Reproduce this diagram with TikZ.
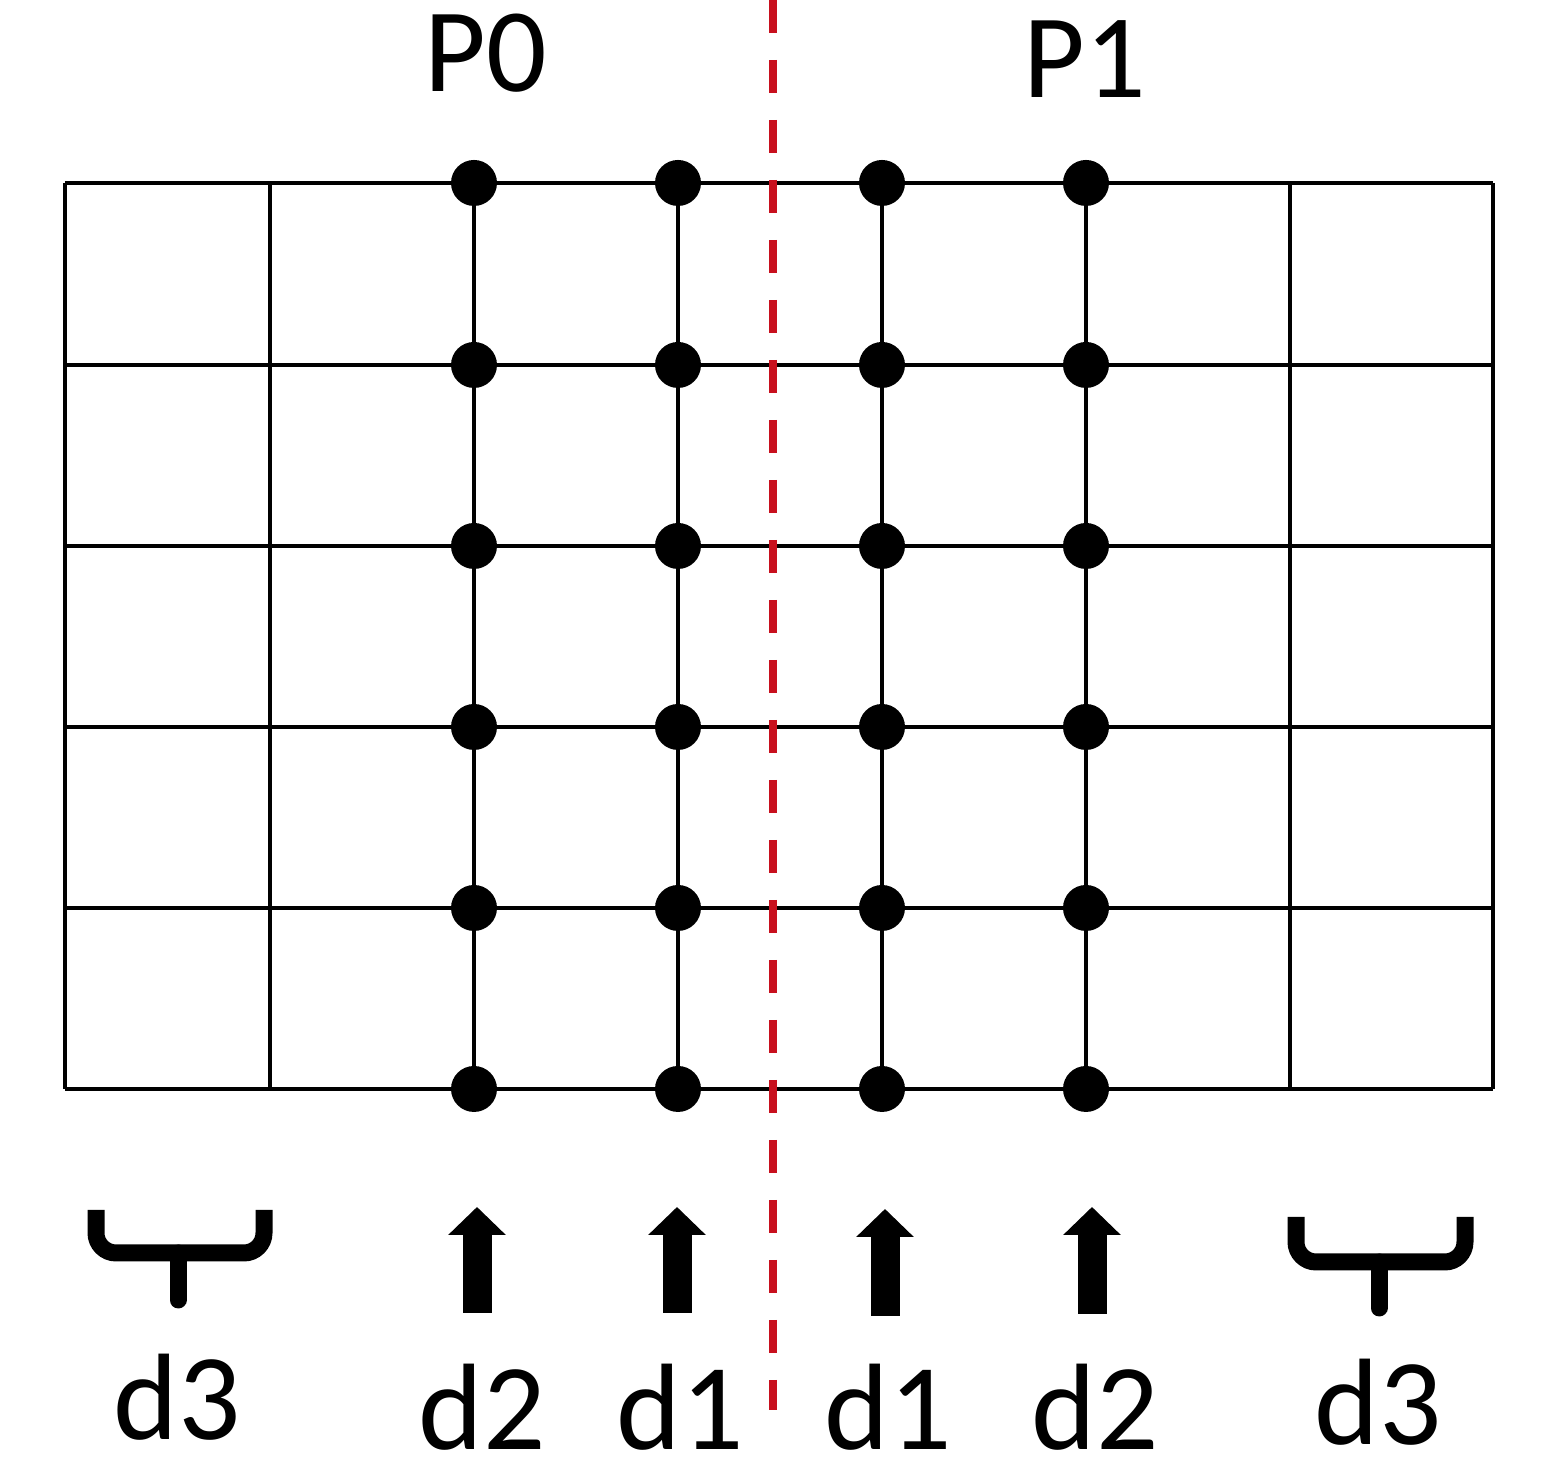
\documentclass[tikz,border=0pt]{standalone}
\usepackage{fontspec}
\setmainfont{Carlito}
\usetikzlibrary{arrows.meta}
\definecolor{cutred}{RGB}{200,16,30}
\tikzset{
    meshline/.style = {line width=0.9pt},
    meshpt/.style = {circle, fill=black, inner sep=0pt, minimum size=0.46cm},
    proctext/.style = {font=\fontsize{34}{40}\selectfont, anchor=base, inner sep=0pt},
    depthtext/.style = {font=\fontsize{35}{40}\selectfont, anchor=base, inner sep=0pt},
    uparrow/.style = {line width=0.29cm, -{Triangle[width=0.56cm,length=0.28cm]}},
    depthbrace/.style = {line width=0.17cm, rounded corners=0.2cm},
    bracestem/.style = {line width=0.17cm, line cap=round}
}

\begin{document}
\begin{tikzpicture}[]
                \useasboundingbox (0,0) rectangle (15.46,14.70);

                % rows
                \draw[meshline] (0.65,12.87) -- (14.93,12.87);
                \draw[meshline] (0.65,11.05) -- (14.93,11.05);
                \draw[meshline] (0.65,9.24) -- (14.93,9.24);
                \draw[meshline] (0.65,7.43) -- (14.93,7.43);
                \draw[meshline] (0.65,5.62) -- (14.93,5.62);
                \draw[meshline] (0.65,3.81) -- (14.93,3.81);

                % columns
                \draw[meshline] (0.65,3.81) -- (0.65,12.87);
                \draw[meshline] (2.70,3.81) -- (2.70,12.87);
                \draw[meshline] (4.74,3.81) -- (4.74,12.87);
                \draw[meshline] (6.78,3.81) -- (6.78,12.87);
                \draw[meshline] (8.82,3.81) -- (8.82,12.87);
                \draw[meshline] (10.86,3.81) -- (10.86,12.87);
                \draw[meshline] (12.90,3.81) -- (12.90,12.87);
                \draw[meshline] (14.93,3.81) -- (14.93,12.87);

                % cut between P0 and P1
                \draw[cutred, line width=0.08cm, dash pattern=on 0.33cm off 0.27cm] (7.73,14.70) -- (7.73,0.60);

                %% points of P0
                \node[meshpt] (a1) at (4.74,12.87) {};
                \node[meshpt] (a2) at (4.74,11.05) {};
                \node[meshpt] (a3) at (4.74,9.24) {};
                \node[meshpt] (a4) at (4.74,7.43) {};
                \node[meshpt] (a5) at (4.74,5.62) {};
                \node[meshpt] (a6) at (4.74,3.81) {};
                \node[meshpt] (b1) at (6.78,12.87) {};
                \node[meshpt] (b2) at (6.78,11.05) {};
                \node[meshpt] (b3) at (6.78,9.24) {};
                \node[meshpt] (b4) at (6.78,7.43) {};
                \node[meshpt] (b5) at (6.78,5.62) {};
                \node[meshpt] (b6) at (6.78,3.81) {};

                %% points of P1
                \node[meshpt] (c1) at (8.82,12.87) {};
                \node[meshpt] (c2) at (8.82,11.05) {};
                \node[meshpt] (c3) at (8.82,9.24) {};
                \node[meshpt] (c4) at (8.82,7.43) {};
                \node[meshpt] (c5) at (8.82,5.62) {};
                \node[meshpt] (c6) at (8.82,3.81) {};
                \node[meshpt] (e1) at (10.86,12.87) {};
                \node[meshpt] (e2) at (10.86,11.05) {};
                \node[meshpt] (e3) at (10.86,9.24) {};
                \node[meshpt] (e4) at (10.86,7.43) {};
                \node[meshpt] (e5) at (10.86,5.62) {};
                \node[meshpt] (e6) at (10.86,3.81) {};

                % arrows
                \draw[uparrow] (4.77,1.57) -- (4.77,2.63);
                \draw[uparrow] (6.77,1.57) -- (6.77,2.63);
                \draw[uparrow] (8.85,1.54) -- (8.85,2.61);
                \draw[uparrow] (10.92,1.56) -- (10.92,2.63);

                % braces
                \draw[depthbrace] (0.96,2.60) -- (0.96,2.17) -- (2.64,2.17) -- (2.64,2.60);
                \draw[bracestem] (1.78,2.17) -- (1.78,1.70);
                \draw[depthbrace] (12.96,2.53) -- (12.96,2.08) -- (14.65,2.08) -- (14.65,2.53);
                \draw[bracestem] (13.79,2.08) -- (13.79,1.62);

                \node[proctext] (p0) at (4.86,13.78) {P0};
                \node[proctext] (p1) at (10.85,13.72) {P1};

                \node[depthtext] (l1) at (1.77,0.30) {d3};
                \node[depthtext] (l2) at (4.82,0.20) {d2};
                \node[depthtext] (l3) at (6.80,0.20) {d1};
                \node[depthtext] (l4) at (8.88,0.20) {d1};
                \node[depthtext] (l5) at (10.95,0.20) {d2};
                \node[depthtext] (l6) at (13.78,0.25) {d3};

            \end{tikzpicture}
\end{document}
